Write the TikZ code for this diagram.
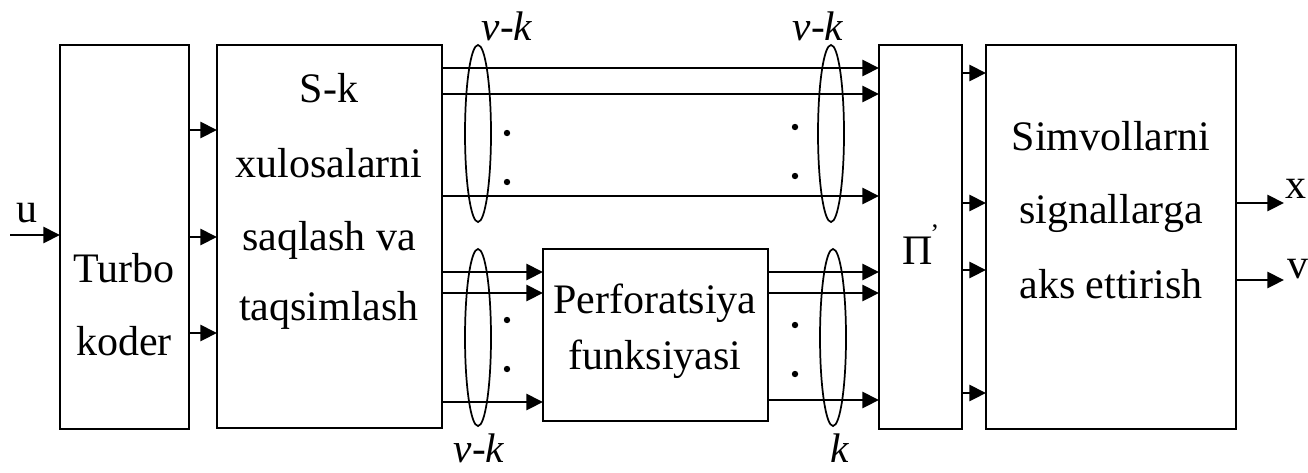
\documentclass[tikz,border=0pt]{standalone}
\usepackage{fontspec}
\setmainfont{Liberation Serif}
\usetikzlibrary{arrows.meta,fit}
\begin{document}
\begin{tikzpicture}[x=0.75pt,y=-0.75pt,
  box/.style={draw,line width=1.8pt,inner sep=0pt,outer sep=0pt,rectangle},
  arr/.style={line width=2.1pt,-{Triangle[length=12.5pt,width=12pt]}},
  ell/.style={line width=1.3pt},
  lbl/.style={anchor=base,inner sep=0pt,font=\fontsize{31.5}{36}\selectfont},
  ilbl/.style={lbl,font=\fontsize{31}{36}\selectfont\itshape},
  dotm/.style={fill=black}]
\useasboundingbox (0,0) rectangle (1308,472);
% boxes
\node[box,fit={(60,45) (189,429)}] (turbo) {};
\node[box,fit={(217,45) (442,428)}] (sk) {};
\node[box,fit={(543,249) (768,421)}] (perf) {};
\node[box,fit={(879,45) (962,429)}] (pi) {};
\node[box,fit={(986,45) (1236,429)}] (simv) {};
% texts
\node[lbl] (t1) at (124,282) {Turbo};
\node[lbl] (t2) at (124,355) {koder};
\node[lbl] (s1) at (329,102) {S-k};
\node[lbl] (s2) at (329,177) {xulosalarni};
\node[lbl] (s3) at (329,250) {saqlash va};
\node[lbl] (s4) at (329,320) {taqsimlash};
\node[lbl] (p1) at (655,313) {Perforatsiya};
\node[lbl] (p2) at (655,369) {funksiyasi};
\node[lbl] (m1) at (1111,150) {Simvollarni};
\node[lbl] (m2) at (1111,223) {signallarga};
\node[lbl] (m3) at (1111,298) {aks ettirish};
\node[lbl,anchor=base west] (pil) at (902,264) {Π};
\node[anchor=base west,inner sep=0pt,font=\fontsize{20}{20}\selectfont] (pip) at (930,242) {’};
% input
\coordinate (uin) at (10,235);
\node[lbl,anchor=base west] (ul) at (16,222) {u};
\draw[arr] (uin) -- (turbo.west |- uin);
% turbo -> sk
\foreach \yy in {130,237,333}{\draw[arr] (turbo.east |- 0,\yy) -- (sk.west |- 0,\yy);}
% sk -> pi (top)
\foreach \yy in {68,94,196}{\draw[arr] (sk.east |- 0,\yy) -- (pi.west |- 0,\yy);}
% sk -> perf
\foreach \yy in {272,293,402}{\draw[arr] (sk.east |- 0,\yy) -- (perf.west |- 0,\yy);}
% perf -> pi
\foreach \yy in {272,293,400}{\draw[arr] (perf.east |- 0,\yy) -- (pi.west |- 0,\yy);}
% pi -> simv
\foreach \yy in {73,203,270,393}{\draw[arr] (pi.east |- 0,\yy) -- (simv.west |- 0,\yy);}
% outputs
\coordinate (xo) at (1284,203);
\coordinate (vo) at (1284,280);
\draw[arr] (simv.east |- xo) -- (xo);
\draw[arr] (simv.east |- vo) -- (vo);
\node[lbl,anchor=base west] (xl) at (1285,198) {x};
\node[lbl,anchor=base west] (vl) at (1287,278) {v};
% ellipses
\draw[ell] (478,133.5) ellipse[x radius=9.75pt,y radius=66.4pt];
\draw[ell] (831,133.5) ellipse[x radius=9.75pt,y radius=66.4pt];
\draw[ell] (478,337.5) ellipse[x radius=9.75pt,y radius=66.4pt];
\draw[ell] (833,337.5) ellipse[x radius=9.75pt,y radius=66.4pt];
% dots
\foreach \p in {(507,133),(507,182),(795,127),(795,176),(507,320),(507,369),(795,325),(795,374)}{\fill[dotm] \p circle[radius=2.4pt];}
% bundle labels
\node[ilbl] (vk1) at (507,40) {v-k};
\node[ilbl] (vk2) at (818,40) {v-k};
\node[ilbl] (vk3) at (479,462) {v-k};
\node[ilbl] (k1) at (840,462) {k};
\end{tikzpicture}
\end{document}
